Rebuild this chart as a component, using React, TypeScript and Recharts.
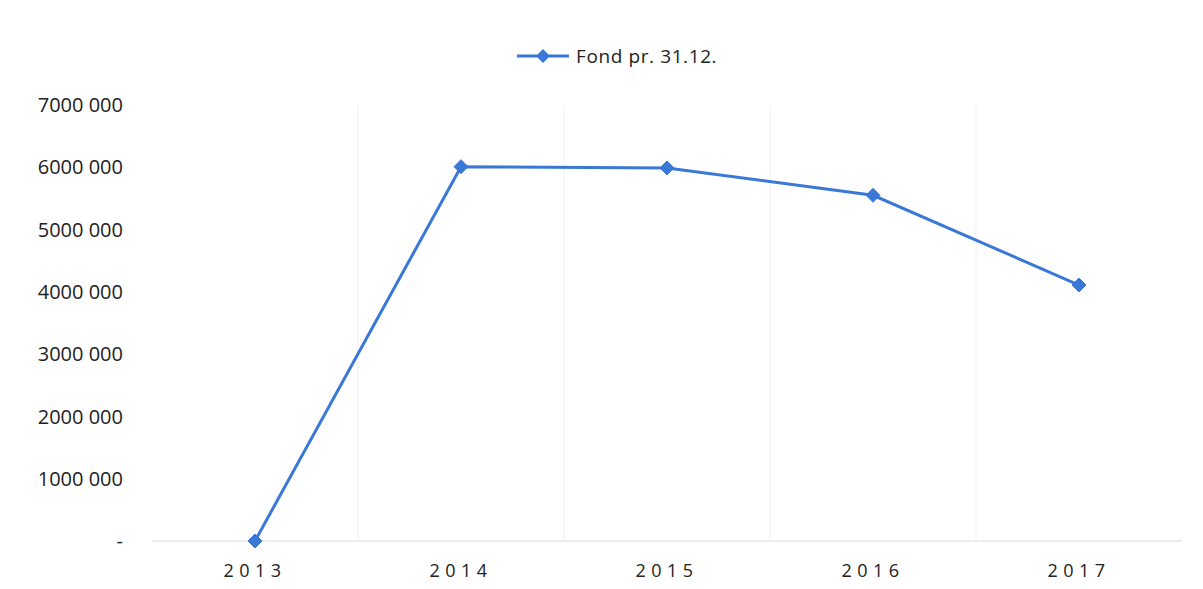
import React from "react";
import { LineChart, Line, XAxis, YAxis, CartesianGrid, Legend } from "recharts";

const years = ["2013", "2014", "2015", "2016", "2017"];
const fond = [0, 6010000, 5990000, 5550000, 4110000];
const yTicks = [0, 1000000, 2000000, 3000000, 4000000, 5000000, 6000000, 7000000];

const data = years.map((y, i) => ({ year: y, fond: fond[i] }));

const BLUE = "#3a78d8";
const FONT = "'Open Sans', 'Liberation Sans', sans-serif";

const fmt = (v: number) => (v === 0 ? "-" : `${v / 1000} 000`);

const Diamond = (props: any) => {
  const { cx, cy } = props;
  if (cx == null || cy == null) return null;
  const r = 7;
  return <polygon points={`${cx},${cy - r} ${cx + r},${cy} ${cx},${cy + r} ${cx - r},${cy}`} fill={BLUE} stroke={BLUE} strokeWidth={1} />;
};

const LegendContent = () => (
  <div style={{ display: "flex", alignItems: "center", paddingLeft: 517, fontFamily: FONT, fontSize: 19, color: "#222", height: 24 }}>
    <svg width={54} height={16} style={{ marginRight: 5 }}>
      <line x1={0} y1={8} x2={52} y2={8} stroke={BLUE} strokeWidth={3} />
      <polygon points="26,1 33,8 26,15 19,8" fill={BLUE} />
    </svg>
    <span style={{ letterSpacing: 0.6 }}>Fond pr. 31.12.</span>
  </div>
);

export default function App() {
  return (
    <div style={{ position: "absolute", left: 0, top: 0, background: "#fff" }}>
      <LineChart width={1203} height={589} data={data} margin={{ top: 81, right: 21, bottom: 18, left: 0 }}>
        <CartesianGrid
          horizontal={false}
          stroke="#f0f0f0"
          verticalCoordinatesGenerator={({ offset }: any) =>
            years.slice(1).map((_, i) => offset.left + ((i + 1) * offset.width) / years.length)
          }
        />
        <XAxis
          dataKey="year"
          scale="band"
          axisLine={{ stroke: "#ececec", strokeWidth: 2 }}
          tickLine={false}
          tickSize={0}
          tickMargin={23}
          tick={{ fill: "#222", fontSize: 18, fontFamily: FONT, letterSpacing: 5.5 }}
        />
        <YAxis
          width={152}
          domain={[0, 7000000]}
          ticks={yTicks}
          tickFormatter={fmt}
          axisLine={false}
          tickLine={false}
          tickSize={0}
          tickMargin={29}
          tick={{ fill: "#222", fontSize: 20, fontFamily: FONT }}
        />
        <Legend verticalAlign="top" wrapperStyle={{ top: 44, left: 0, width: 1203 }} content={<LegendContent />} />
        <Line
          dataKey="fond"
          name="Fond pr. 31.12."
          stroke={BLUE}
          strokeWidth={3}
          dot={<Diamond />}
          activeDot={false}
          isAnimationActive={false}
        />
      </LineChart>
    </div>
  );
}
